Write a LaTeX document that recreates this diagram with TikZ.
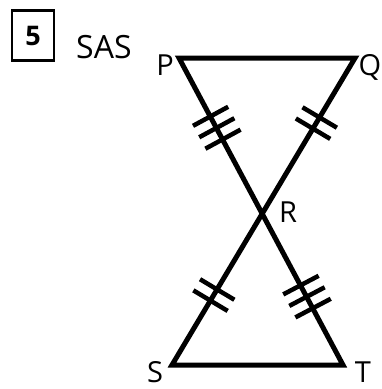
\documentclass[tikz,border=0pt]{standalone}
\usepackage{fontspec}
\setmainfont{Open Sans}
\usetikzlibrary{decorations.markings}

\tikzset{
    side/.style={draw, line width=5pt, line join=miter},
    tick/.style={line width=4.5pt},
    twoticks/.style={decoration={markings,
        mark=at position #1 with {\draw[tick] (-6.5pt,-20pt) -- (-6.5pt,20pt) (6.5pt,-20pt) -- (6.5pt,20pt);}},
        postaction={decorate}},
    threeticks/.style={decoration={markings,
        mark=at position #1 with {\draw[tick] (-13pt,-20pt) -- (-13pt,20pt) (0pt,-20pt) -- (0pt,20pt) (13pt,-20pt) -- (13pt,20pt);}},
        postaction={decorate}},
    vlabel/.style={font=\fontsize{29}{29}\selectfont, anchor=base, inner sep=0pt},
}

\begin{document}
\begin{tikzpicture}[x=1pt, y=-1pt]
    \useasboundingbox (0,0) rectangle (382,389);
    % number box and title
    \node[draw, line width=2.5pt, minimum width=42pt, minimum height=50pt, inner sep=0pt,
          font=\fontsize{27}{27}\selectfont\bfseries] (num) at (33,35.5) {5};
    \node[font=\fontsize{32}{32}\selectfont, anchor=base west, inner sep=0pt] (title) at (76,58) {SAS};
    % vertices
    \coordinate (P) at (179,58);
    \coordinate (Q) at (355,58);
    \coordinate (R) at (263,213);
    \coordinate (S) at (172,365);
    \coordinate (T) at (343,365);
    \draw[side] (P) -- (Q) -- (S) -- (T) -- cycle;
    % congruence marks
    \path[threeticks=0.45] (P) -- (R);
    \path[twoticks=0.42] (Q) -- (R);
    \path[twoticks=0.54] (R) -- (S);
    \path[threeticks=0.55] (R) -- (T);
    % labels
    \node[vlabel] (lP) at (165,75) {P};
    \node[vlabel] (lQ) at (370,75) {Q};
    \node[vlabel] (lR) at (288,222) {R};
    \node[vlabel] (lS) at (155,382) {S};
    \node[vlabel] (lT) at (363,382) {T};
\end{tikzpicture}
\end{document}
